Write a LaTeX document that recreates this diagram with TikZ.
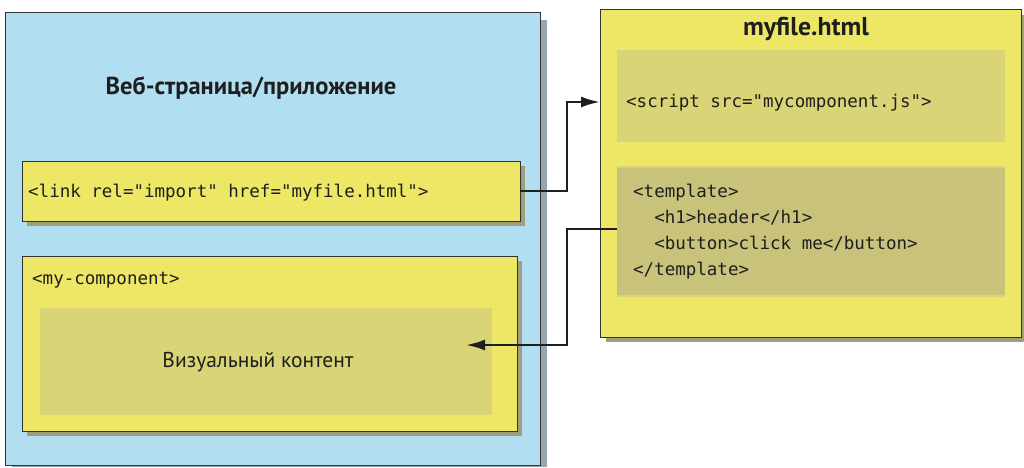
\documentclass[tikz,border=0pt]{standalone}
\usepackage{fontspec}
\usetikzlibrary{arrows.meta}
\setmainfont{PT Sans}
\newfontfamily\mono{DejaVu Sans Mono}
\definecolor{bluefill}{HTML}{B1DEF1}
\definecolor{yel}{HTML}{EDE765}
\definecolor{inner}{HTML}{D9D576}
\definecolor{tmpl}{HTML}{C9C27A}
\definecolor{bshadow}{HTML}{97A6AE}
\definecolor{yshadow}{HTML}{9EA07C}
\definecolor{edge}{HTML}{333333}
\definecolor{ink}{HTML}{1E1E1E}
\begin{document}
\begin{tikzpicture}[x=1pt,y=-1pt,
  box/.style={draw=edge, line width=1pt, inner sep=0pt, outer sep=0pt, anchor=north west},
  panel/.style={inner sep=0pt, outer sep=0pt, anchor=north west},
  code/.style={font=\mono\fontsize{17.5}{26}\selectfont, text=ink, inner sep=0pt, anchor=west, align=left},
  ttl/.style={font=\bfseries\fontsize{24.5}{28}\selectfont, text=ink, inner sep=0pt},
  lbl/.style={font=\fontsize{21.5}{24}\selectfont, text=ink, inner sep=0pt},
  conn/.style={draw=ink, line width=2.4pt},
  arr/.style={conn, -{Latex[length=19pt,width=11pt]}}]
\useasboundingbox (0,0) rectangle (1024,467);
% shadows
\fill[bshadow] (12,20) rectangle (547,467);
\fill[yshadow] (606,15) rectangle (1027,342);
% web page box
\node[box, fill=bluefill, minimum width=535pt, minimum height=453pt] (web) at (5,12) {};
\node[ttl] (webtitle) at (251,88) {Веб-страница/приложение};
% link box
\fill[yshadow] (27,166) rectangle (525,226);
\node[box, fill=yel, minimum width=498pt, minimum height=60pt] (link) at (22,161) {};
\node[code] (linktext) at (28,193) {<link rel="import" href="myfile.html">};
% my-component box
\fill[yshadow] (27,261) rectangle (522,436);
\node[box, fill=yel, minimum width=495pt, minimum height=175pt] (comp) at (22,256) {};
\node[code] (comptext) at (32,280) {<my-component>};
\node[panel, fill=inner, minimum width=452pt, minimum height=107pt] (visual) at (40,308) {};
\node[lbl] (vistext) at (258,362) {Визуальный контент};
% myfile box
\node[box, fill=yel, minimum width=421pt, minimum height=328pt] (myfile) at (600,9) {};
\node[ttl, font=\bfseries\fontsize{25.8}{28}\selectfont] (mftitle) at (806,29) {myfile.html};
\node[panel, fill=inner, minimum width=388pt, minimum height=92pt] (script) at (617,50) {};
\node[code] (scripttext) at (626,103) {<script src="mycomponent.js">};
\fill[inner] (617,166) rectangle (1005,297);
\node[panel, fill=tmpl, minimum width=388pt, minimum height=127pt] (tmpl) at (617,168) {};
\node[code, anchor=north west] (tmpltext) at (633,184) {<template>\\\ \ <h1>header</h1>\\\ \ <button>click me</button>\\</template>};
% connectors
\coordinate (t1) at (tmpl.west |- 0,229);
\coordinate (v1) at (466,345);
\draw[arr] (link.east) -- (567,191) |- (myfile.west |- 0,102);
\draw[arr] (t1) -- (567,229) |- (v1);
\end{tikzpicture}
\end{document}
